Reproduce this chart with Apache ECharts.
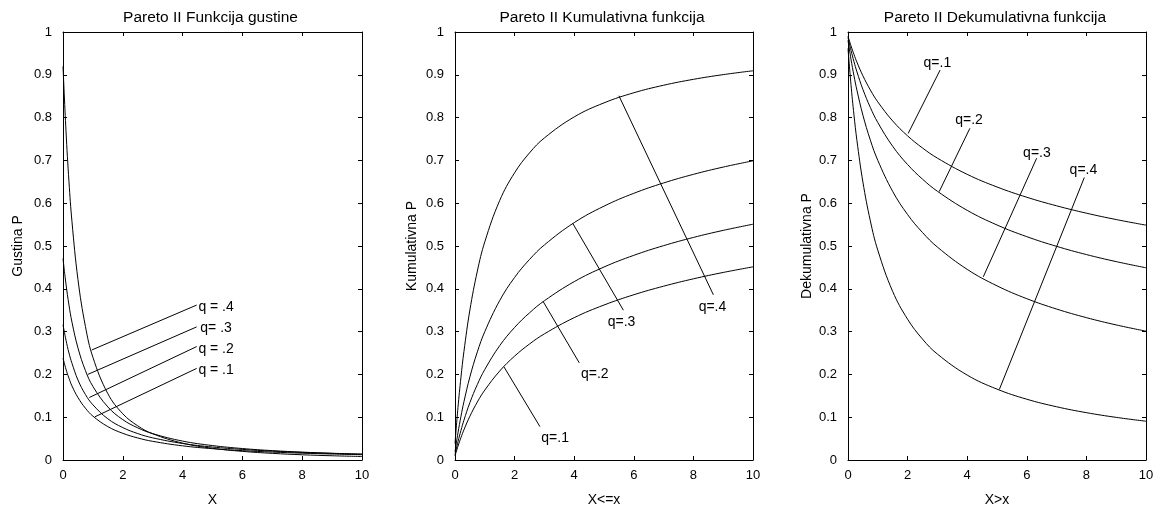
<!DOCTYPE html>
<html>
<head>
<meta charset="utf-8">
<script src="https://cdn.jsdelivr.net/npm/echarts@6/dist/echarts.min.js"></script>
<style>
  html, body { margin: 0; padding: 0; background: #fff; }
  #chart { width: 1158px; height: 506px; }
</style>
</head>
<body>
<div id="chart"></div>
<script>
// Sample points along X shared by every curve
const xValues = [0, 0.1, 0.2, 0.3, 0.5, 0.75, 1, 1.5, 2, 2.5, 3, 4, 5, 6, 7, 8, 9, 10];

// Density curves, one per q
const densityQ4 = [0.920, 0.769, 0.650, 0.557, 0.422, 0.312, 0.240, 0.155, 0.108, 0.0798, 0.0613, 0.0394, 0.0274, 0.0202, 0.0155, 0.0122, 0.0099, 0.0082];
const densityQ3 = [0.471, 0.411, 0.362, 0.322, 0.262, 0.209, 0.172, 0.124, 0.0943, 0.0751, 0.0616, 0.0442, 0.0337, 0.0268, 0.0219, 0.0184, 0.0157, 0.0136];
const densityQ2 = [0.316, 0.280, 0.250, 0.226, 0.187, 0.153, 0.129, 0.0962, 0.0757, 0.0618, 0.0518, 0.0386, 0.0303, 0.0247, 0.0207, 0.0177, 0.0154, 0.0136];
const densityQ1 = [0.238, 0.212, 0.191, 0.173, 0.146, 0.121, 0.1025, 0.0780, 0.0623, 0.0515, 0.0436, 0.0331, 0.0264, 0.0218, 0.0185, 0.0159, 0.0140, 0.0124];

// Cumulative curves
const cumulQ4 = [0.0385, 0.1228, 0.1935, 0.2537, 0.3506, 0.4413, 0.5098, 0.6063, 0.6711, 0.7175, 0.7525, 0.8016, 0.8344, 0.8580, 0.8756, 0.8894, 0.9004, 0.9094];
const cumulQ3 = [0.0194, 0.0634, 0.1020, 0.1361, 0.1942, 0.2526, 0.2999, 0.3725, 0.4265, 0.4685, 0.5025, 0.5546, 0.5931, 0.6231, 0.6473, 0.6674, 0.6844, 0.6990];
const cumulQ2 = [0.0130, 0.0427, 0.0692, 0.0930, 0.1341, 0.1764, 0.2115, 0.2671, 0.3097, 0.3438, 0.3721, 0.4167, 0.4509, 0.4782, 0.5008, 0.5200, 0.5365, 0.5509];
const cumulQ1 = [0.0098, 0.0322, 0.0524, 0.0706, 0.1023, 0.1355, 0.1633, 0.2079, 0.2427, 0.2710, 0.2947, 0.3326, 0.3621, 0.3861, 0.4061, 0.4233, 0.4382, 0.4513];

// Decumulative (survival) curves
const decumQ4 = [0.9615, 0.8772, 0.8065, 0.7463, 0.6494, 0.5587, 0.4902, 0.3937, 0.3289, 0.2825, 0.2475, 0.1984, 0.1656, 0.1420, 0.1244, 0.1106, 0.0996, 0.0906];
const decumQ3 = [0.9806, 0.9366, 0.8980, 0.8639, 0.8058, 0.7474, 0.7001, 0.6275, 0.5735, 0.5315, 0.4975, 0.4454, 0.4069, 0.3769, 0.3527, 0.3326, 0.3156, 0.3010];
const decumQ2 = [0.9870, 0.9573, 0.9308, 0.9070, 0.8659, 0.8236, 0.7885, 0.7329, 0.6903, 0.6562, 0.6279, 0.5833, 0.5491, 0.5218, 0.4992, 0.4800, 0.4635, 0.4491];
const decumQ1 = [0.9902, 0.9678, 0.9476, 0.9294, 0.8977, 0.8645, 0.8367, 0.7921, 0.7573, 0.7290, 0.7053, 0.6674, 0.6379, 0.6139, 0.5939, 0.5767, 0.5618, 0.5487];

// Pointer lines (curve point -> label end) and label texts/anchors, in data units
const densityPointers = [[[0.96, 0.257], [4.47, 0.362]], [[0.83, 0.200], [4.47, 0.311]], [[0.88, 0.146], [4.47, 0.265]], [[1.07, 0.101], [4.47, 0.214]]];
const densityLabels = ['q = .4', 'q= .3', 'q = .2', 'q = .1'];
const densityLabelAt = [[5.12, 0.356], [5.12, 0.307], [5.12, 0.258], [5.12, 0.209]];

const cumulPointers = [[[5.50, 0.851], [8.67, 0.386]], [[3.95, 0.553], [5.65, 0.350]], [[2.96, 0.370], [4.17, 0.227]], [[1.64, 0.218], [2.85, 0.078]]];
const cumulLabels = ['q=.4', 'q=.3', 'q=.2', 'q=.1'];
const cumulLabelAt = [[8.64, 0.358], [5.59, 0.323], [4.69, 0.200], [3.36, 0.052]];

const decumPointers = [[[2.02, 0.763], [3.09, 0.911]], [[3.06, 0.627], [4.09, 0.775]], [[4.54, 0.428], [6.33, 0.705]], [[5.08, 0.165], [7.93, 0.660]]];
const decumLabels = ['q=.1', 'q=.2', 'q=.3', 'q=.4'];
const decumLabelAt = [[3.00, 0.927], [4.06, 0.794], [6.34, 0.716], [7.90, 0.678]];

// Panel texts
const panelTitles = ['Pareto II Funkcija gustine', 'Pareto II Kumulativna funkcija', 'Pareto II Dekumulativna funkcija'];
const xNames = ['X', 'X<=x', 'X>x'];
const yNames = ['Gustina P', 'Kumulativna P', 'Dekumulativna P'];

const FONT = '"Liberation Sans", Arial, Helvetica, sans-serif';
const grids = [
  { left: 63, top: 32, width: 299, height: 428, outerBoundsMode: 'none' },
  { left: 455, top: 32, width: 298, height: 428, outerBoundsMode: 'none' },
  { left: 848, top: 32, width: 298, height: 428, outerBoundsMode: 'none' }
];
const yNameGaps = [38, 36, 34];

const xAxes = [], yAxes = [], series = [], titles = [];
const axisLineStyle = { show: true, onZero: false, lineStyle: { color: '#000', width: 1 } };
const tickStyle = { show: true, inside: true, length: 4, lineStyle: { color: '#000', width: 1 } };
const labelStyle = { color: '#000', fontSize: 13, fontFamily: FONT };

grids.forEach((g, i) => {
  titles.push({
    text: panelTitles[i],
    left: g.left + g.width / 2 - 7,
    top: 5,
    textAlign: 'center',
    textStyle: { fontSize: 15.5, fontWeight: 'normal', color: '#000', fontFamily: FONT }
  });
  // bottom + mirrored top x axis
  xAxes.push({
    type: 'value', gridIndex: i, min: 0, max: 10, interval: 2, position: 'bottom',
    name: xNames[i], nameLocation: 'middle', nameGap: 33,
    nameTextStyle: { color: '#000', fontSize: 14, fontFamily: FONT },
    axisLine: axisLineStyle, axisTick: tickStyle,
    axisLabel: Object.assign({ margin: 9 }, labelStyle),
    splitLine: { show: false }
  });
  xAxes.push({
    type: 'value', gridIndex: i, min: 0, max: 10, interval: 2, position: 'top',
    axisLine: axisLineStyle, axisTick: tickStyle, axisLabel: { show: false }, splitLine: { show: false }
  });
  // left + mirrored right y axis
  yAxes.push({
    type: 'value', gridIndex: i, min: 0, max: 1, interval: 0.1, position: 'left',
    name: yNames[i], nameLocation: 'middle', nameGap: yNameGaps[i], nameRotate: 90,
    nameTextStyle: { color: '#000', fontSize: 14, fontFamily: FONT },
    axisLine: axisLineStyle, axisTick: tickStyle,
    axisLabel: Object.assign({ margin: 11, formatter: v => String(Math.round(v * 10) / 10) }, labelStyle),
    splitLine: { show: false }
  });
  yAxes.push({
    type: 'value', gridIndex: i, min: 0, max: 1, interval: 0.1, position: 'right',
    axisLine: axisLineStyle, axisTick: tickStyle, axisLabel: { show: false }, splitLine: { show: false }
  });
});

const zip = ys => xValues.map((x, k) => [x, ys[k]]);
const curve = (panel, ys) => ({
  type: 'line', xAxisIndex: panel * 2, yAxisIndex: panel * 2,
  data: zip(ys), showSymbol: false, smooth: 0.4,
  lineStyle: { color: '#000', width: 1 }, silent: true, animation: false, z: 3
});
const pointer = (panel, seg) => ({
  type: 'line', xAxisIndex: panel * 2, yAxisIndex: panel * 2,
  data: seg, showSymbol: false, lineStyle: { color: '#000', width: 1 },
  silent: true, animation: false, z: 3
});
const labels = (panel, texts, at) => ({
  type: 'scatter', xAxisIndex: panel * 2, yAxisIndex: panel * 2,
  symbol: 'circle', symbolSize: 0, itemStyle: { color: '#000' },
  data: at.map((p, k) => ({ value: p, name: texts[k] })),
  label: {
    show: true, position: [0, 0], align: 'center', verticalAlign: 'middle',
    formatter: d => d.name, color: '#000', opacity: 1, textBorderWidth: 0,
    fontSize: 14, fontFamily: FONT
  },
  silent: true, animation: false, z: 4
});

[densityQ4, densityQ3, densityQ2, densityQ1].forEach(ys => series.push(curve(0, ys)));
[cumulQ4, cumulQ3, cumulQ2, cumulQ1].forEach(ys => series.push(curve(1, ys)));
[decumQ4, decumQ3, decumQ2, decumQ1].forEach(ys => series.push(curve(2, ys)));
densityPointers.forEach(s => series.push(pointer(0, s)));
cumulPointers.forEach(s => series.push(pointer(1, s)));
decumPointers.forEach(s => series.push(pointer(2, s)));
series.push(labels(0, densityLabels, densityLabelAt));
series.push(labels(1, cumulLabels, cumulLabelAt));
series.push(labels(2, decumLabels, decumLabelAt));

const chart = echarts.init(document.getElementById('chart'), null, { renderer: 'canvas' });
chart.setOption({
  backgroundColor: '#fff',
  animation: false,
  title: titles,
  grid: grids,
  xAxis: xAxes,
  yAxis: yAxes,
  series: series
});
</script>
</body>
</html>
